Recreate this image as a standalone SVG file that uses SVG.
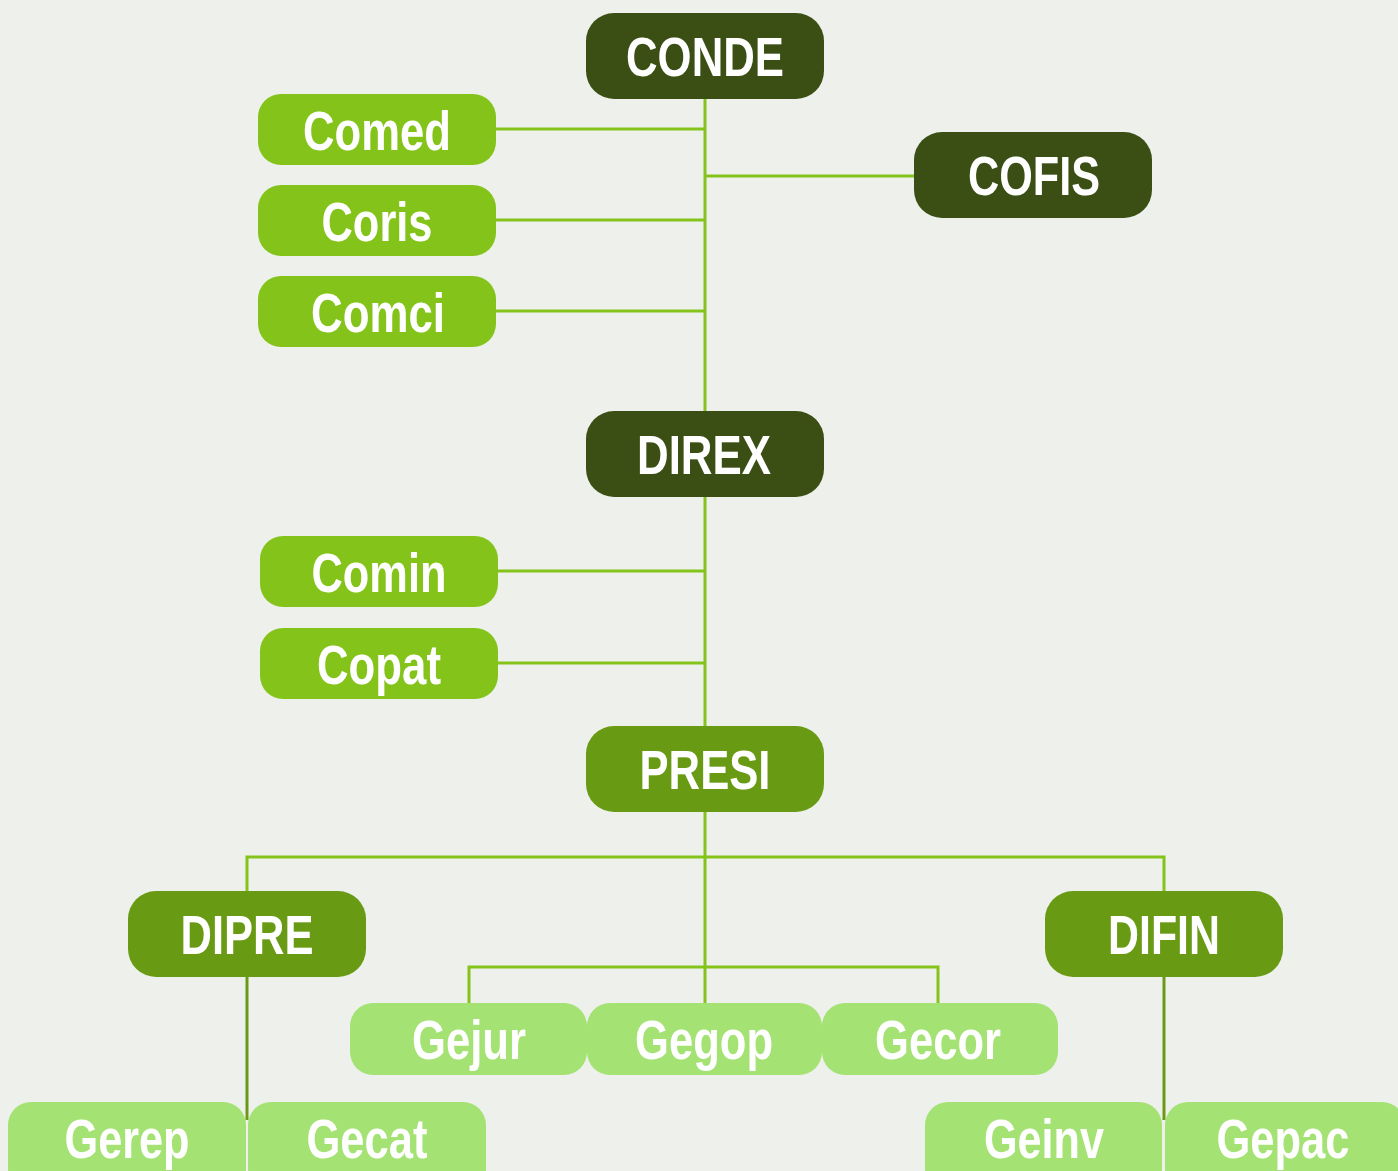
<svg xmlns="http://www.w3.org/2000/svg" width="1398" height="1171" viewBox="0 0 1398 1171">
<style>
.bg{fill:#eef0ec}
.dark{fill:#3b4f15}
.mid{fill:#699a13}
.lg{fill:#84c41a}
.pale{fill:#a4e273}
text{font-family:"Liberation Sans",Arial,sans-serif;font-weight:bold;font-size:56px;fill:#ffffff;text-anchor:middle}
.c{fill:none;stroke:#84c41a;stroke-width:3}
.c2{fill:none;stroke:#6a9a14;stroke-width:3}
</style>
<rect class="bg" x="0" y="0" width="1398" height="1171"/>
<g id="connectors">
<path class="c" d="M705 99V411M496 129H705M705 176H914M496 220H705M496 311H705"/>
<path class="c" d="M705 497V726M498 571H705M498 663H705"/>
<path class="c" d="M705 812V1003M247 891V857H1164V891M469 1003V967H938V1003"/>
<path class="c2" d="M247 977V1120M1164 977V1120"/>
</g>
<g id="CONDE"><rect class="dark" x="586" y="13" width="238" height="86" rx="28"/><text x="705" y="76" textLength="158" lengthAdjust="spacingAndGlyphs">CONDE</text></g>
<g id="COFIS"><rect class="dark" x="914" y="132" width="238" height="86" rx="28"/><text x="1034" y="195" textLength="132" lengthAdjust="spacingAndGlyphs">COFIS</text></g>
<g id="Comed"><rect class="lg" x="258" y="94" width="238" height="71" rx="23"/><text x="377" y="150" textLength="148" lengthAdjust="spacingAndGlyphs">Comed</text></g>
<g id="Coris"><rect class="lg" x="258" y="185" width="238" height="71" rx="23"/><text x="377" y="241" textLength="111" lengthAdjust="spacingAndGlyphs">Coris</text></g>
<g id="Comci"><rect class="lg" x="258" y="276" width="238" height="71" rx="23"/><text x="378" y="332" textLength="134" lengthAdjust="spacingAndGlyphs">Comci</text></g>
<g id="DIREX"><rect class="dark" x="586" y="411" width="238" height="86" rx="28"/><text x="704" y="474" textLength="134" lengthAdjust="spacingAndGlyphs">DIREX</text></g>
<g id="Comin"><rect class="lg" x="260" y="536" width="238" height="71" rx="23"/><text x="379" y="592" textLength="135" lengthAdjust="spacingAndGlyphs">Comin</text></g>
<g id="Copat"><rect class="lg" x="260" y="628" width="238" height="71" rx="23"/><text x="379" y="684" textLength="124" lengthAdjust="spacingAndGlyphs">Copat</text></g>
<g id="PRESI"><rect class="mid" x="586" y="726" width="238" height="86" rx="28"/><text x="705" y="789" textLength="131" lengthAdjust="spacingAndGlyphs">PRESI</text></g>
<g id="DIPRE"><rect class="mid" x="128" y="891" width="238" height="86" rx="28"/><text x="247" y="954" textLength="133" lengthAdjust="spacingAndGlyphs">DIPRE</text></g>
<g id="DIFIN"><rect class="mid" x="1045" y="891" width="238" height="86" rx="28"/><text x="1164" y="954" textLength="112" lengthAdjust="spacingAndGlyphs">DIFIN</text></g>
<g id="Gejur"><rect class="pale" x="350" y="1003" width="237" height="72" rx="23"/><text x="469" y="1059" textLength="114" lengthAdjust="spacingAndGlyphs">Gejur</text></g>
<g id="Gegop"><rect class="pale" x="587" y="1003" width="235" height="72" rx="23"/><text x="704" y="1059" textLength="138" lengthAdjust="spacingAndGlyphs">Gegop</text></g>
<g id="Gecor"><rect class="pale" x="822" y="1003" width="236" height="72" rx="23"/><text x="938" y="1059" textLength="126" lengthAdjust="spacingAndGlyphs">Gecor</text></g>
<g id="Gerep"><rect class="pale" x="8" y="1102" width="238" height="90" rx="23"/><text x="127" y="1158" textLength="125" lengthAdjust="spacingAndGlyphs">Gerep</text></g>
<g id="Gecat"><rect class="pale" x="248" y="1102" width="238" height="90" rx="23"/><text x="367" y="1158" textLength="121" lengthAdjust="spacingAndGlyphs">Gecat</text></g>
<g id="Geinv"><rect class="pale" x="925" y="1102" width="237" height="90" rx="23"/><text x="1044" y="1158" textLength="120" lengthAdjust="spacingAndGlyphs">Geinv</text></g>
<g id="Gepac"><rect class="pale" x="1165" y="1102" width="240" height="90" rx="23"/><text x="1283" y="1158" textLength="133" lengthAdjust="spacingAndGlyphs">Gepac</text></g>
</svg>
